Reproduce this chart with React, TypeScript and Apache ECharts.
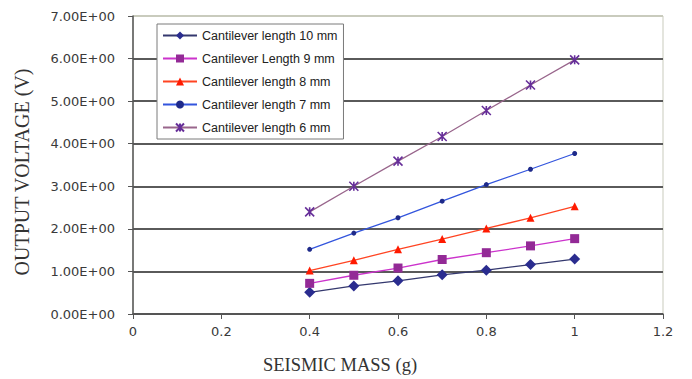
import React, { useEffect, useRef } from "react";
import * as echarts from "echarts";

const massValues = [0.4, 0.5, 0.6, 0.7, 0.8, 0.9, 1.0];
const seriesNames = [
  "Cantilever length 10 mm",
  "Cantilever Length 9 mm",
  "Cantilever length 8 mm",
  "Cantilever length 7 mm",
  "Cantilever length 6 mm",
];
const len10 = [0.51, 0.66, 0.78, 0.92, 1.03, 1.16, 1.29];
const len9 = [0.72, 0.91, 1.08, 1.28, 1.44, 1.6, 1.77];
const len8 = [1.02, 1.26, 1.52, 1.76, 2.01, 2.26, 2.53];
const len7 = [1.52, 1.9, 2.26, 2.65, 3.04, 3.4, 3.77];
const len6 = [2.4, 3.0, 3.59, 4.17, 4.78, 5.38, 5.97];
const xTicks = [0, 0.2, 0.4, 0.6, 0.8, 1, 1.2];
const yTicks = [0, 1, 2, 3, 4, 5, 6, 7];

const STAR = "path://M0,0L10,10M10,0L0,10M5,0L5,10";

export default function App() {
  const ref = useRef<HTMLDivElement>(null);
  useEffect(() => {
    if (!ref.current) return;
    const chart = echarts.init(ref.current, undefined, { renderer: "svg" });
    const pair = (vals: number[]) => vals.map((v, i) => [massValues[i], v]);
    const styles = [
      { line: "#34386e", marker: "#2a2c8f", symbol: "diamond", size: 11 },
      { line: "#cc33cc", marker: "#932a96", symbol: "rect", size: 9 },
      { line: "#ff4422", marker: "#ff1a00", symbol: "triangle", size: 8 },
      { line: "#3355dd", marker: "#1e2a8a", symbol: "circle", size: 5 },
      { line: "#99668c", marker: "#662e99", symbol: STAR, size: 9 },
    ];
    const data = [len10, len9, len8, len7, len6];
    chart.setOption({
      animation: false,
      backgroundColor: "#ffffff",
      grid: {
        left: 133,
        right: 29,
        top: 16,
        bottom: 65,
        show: true,
        borderColor: "#c9cbbd",
        borderWidth: 1,
      },
      legend: {
        orient: "vertical",
        left: 157,
        top: 24,
        padding: [5, 6, 5, 5],
        itemWidth: 34,
        itemHeight: 10,
        itemGap: 10,
        backgroundColor: "#ffffff",
        borderColor: "#7a7a7a",
        borderWidth: 1,
        textStyle: { fontFamily: "Liberation Sans, Arial, sans-serif", fontSize: 12.5, color: "#222" },
        data: seriesNames,
      },
      xAxis: {
        type: "value",
        min: 0,
        max: 1.2,
        interval: 0.2,
        axisLine: { show: true, lineStyle: { color: "#555", width: 1.5 } },
        axisTick: { show: true, inside: false, length: 5, lineStyle: { color: "#555" } },
        axisLabel: {
          margin: 11,
          fontFamily: "DejaVu Sans, sans-serif",
          fontSize: 13,
          color: "#3a3a3a",
          formatter: (v: number) => (xTicks.includes(Math.round(v * 10) / 10) ? String(Math.round(v * 10) / 10) : ""),
        },
        splitLine: { show: false },
      },
      yAxis: {
        type: "value",
        min: 0,
        max: 7,
        interval: 1,
        axisLine: { show: true, lineStyle: { color: "#555", width: 1.5 } },
        axisTick: { show: true, inside: false, length: 5, lineStyle: { color: "#555" } },
        axisLabel: {
          margin: 18,
          fontFamily: "DejaVu Sans, sans-serif",
          fontSize: 13,
          color: "#3a3a3a",
          formatter: (v: number) => (yTicks.includes(v) ? v.toFixed(2) + "E+00" : ""),
        },
        splitLine: {
          show: true,
          lineStyle: {
            color: ["#555", "#5a5a5a", "#5a5a5a", "#5a5a5a", "#5a5a5a", "#5a5a5a", "#5a5a5a", "#c9cbbd"],
            width: 2,
          },
        },
      },
      graphic: [
        {
          type: "text",
          x: 22,
          y: 172,
          rotation: Math.PI / 2,
          style: {
            text: "OUTPUT VOLTAGE (V)",
            font: '20px "Liberation Serif", "DejaVu Serif", serif',
            fill: "#333",
            align: "center",
            verticalAlign: "middle",
          },
        },
        {
          type: "text",
          x: 340,
          y: 365,
          style: {
            text: "SEISMIC MASS (g)",
            font: '18.5px "Liberation Serif", "DejaVu Serif", serif',
            fill: "#333",
            align: "center",
            verticalAlign: "middle",
          },
        },
      ],
      series: data.map((vals, i) => {
        const s = styles[i];
        const isStar = i === 4;
        return {
          name: seriesNames[i],
          type: "line",
          data: pair(vals),
          symbol: s.symbol,
          symbolSize: s.size,
          showAllSymbol: true,
          lineStyle: { color: s.line, width: 1.3 },
          itemStyle: isStar
            ? { color: s.marker, borderColor: s.marker, borderWidth: 1.6 }
            : { color: s.marker, borderColor: s.marker, borderWidth: 0 },
          z: 3,
        };
      }),
    });
    return () => chart.dispose();
  }, []);
  return (
    <div
      ref={ref}
      style={{ position: "fixed", left: 0, top: 0, width: 692, height: 379 }}
    />
  );
}
